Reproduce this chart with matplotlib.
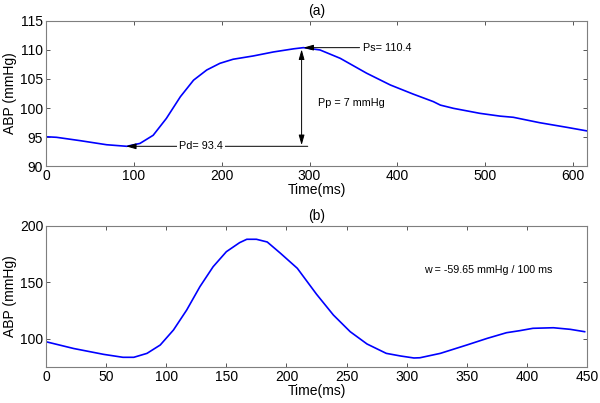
import matplotlib
matplotlib.use("Agg")
import matplotlib.pyplot as plt

plt.rcParams["font.family"] = ["Liberation Sans", "DejaVu Sans"]

# ── (a) ABP single beat ──────────────────────────────────────────────────────
t_a = [0, 12, 39, 69, 92, 107, 122, 137, 153, 168, 183, 198, 213, 236, 259,
       282, 293, 312, 335, 365, 392, 418, 441, 449, 464, 494, 517, 532, 562,
       593, 616]
abp_a = [95.05, 94.95, 94.37, 93.67, 93.4, 93.9, 95.3, 98.2, 101.95, 104.8,
         106.55, 107.7, 108.4, 108.97, 109.66, 110.2, 110.4, 110.0, 108.56,
         106.0, 103.97, 102.4, 101.1, 100.5, 99.94, 99.08, 98.6, 98.4, 97.47,
         96.67, 96.05]

# ── (b) ABP wave ─────────────────────────────────────────────────────────────
t_b = [0, 23, 48, 64, 73, 84, 95, 106, 117, 128, 139, 150, 161, 167, 175,
       184, 195, 209, 225, 239, 253, 267, 283, 295, 306, 311, 328, 350, 367,
       383, 394, 405, 422, 436, 448]
abp_b = [97.4, 91.4, 86.2, 83.6, 83.6, 87.1, 94.5, 107.8, 125.5, 146.2, 163.9,
         177.2, 185.2, 188.2, 188.2, 185.8, 175.8, 162.5, 139.5, 121.1, 106.3,
         95.4, 87.1, 84.75, 83.0, 83.2, 87.1, 94.5, 100.4, 105.4, 107.2, 109.3,
         109.8, 108.4, 106.3]

SPINE = "#7f7f7f"


def style_axes(ax):
    for s in ax.spines.values():
        s.set_color(SPINE)
        s.set_linewidth(0.8)
    ax.tick_params(direction="in", length=3, width=0.7, color="#555555",
                   top=True, right=True, labelsize=10, pad=2)
    ax.set_xlabel("Time(ms)", fontsize=10, labelpad=0)
    ax.set_ylabel("ABP (mmHg)", fontsize=10, labelpad=2)


fig = plt.figure(figsize=(6.0, 4.03), dpi=100)
ax1 = fig.add_axes([0.0767, 0.588, 0.9017, 0.360])
ax2 = fig.add_axes([0.0767, 0.0893, 0.9017, 0.350])

# (a)
ax1.plot(t_a, abp_a, color="#0000ff", linewidth=1.2)
ax1.set_xlim(0, 616)
ax1.set_ylim(90, 115)
ax1.set_xticks(range(0, 601, 100))
ax1.set_yticks(range(90, 116, 5))
ax1.set_title("(a)", fontsize=10, pad=4)
style_axes(ax1)

arr = dict(arrowstyle="-|>,head_length=0.6,head_width=0.17", color="black",
           linewidth=0.7, shrinkA=0, shrinkB=0)
ax1.annotate("", xy=(91, 93.4), xytext=(298, 93.4), arrowprops=arr)
ax1.text(176, 93.4, "Pd= 93.4", fontsize=7.8, ha="center", va="center",
         bbox=dict(facecolor="white", edgecolor="none", pad=1.5))
ax1.annotate("", xy=(293, 110.4), xytext=(357, 110.4), arrowprops=arr)
ax1.text(361, 110.4, "Ps= 110.4", fontsize=7.8, ha="left", va="center")
ax1.annotate("", xy=(291, 110.1), xytext=(291, 93.6),
             arrowprops=dict(arrowstyle="<|-|>,head_length=0.6,head_width=0.17",
                             color="black", linewidth=0.7, shrinkA=0, shrinkB=0))
ax1.text(310, 100.8, "Pp = 7 mmHg", fontsize=7.8, ha="left", va="center")

# (b)
ax2.plot(t_b, abp_b, color="#0000ff", linewidth=1.2)
ax2.set_xlim(0, 450)
ax2.set_ylim(75, 200)
ax2.set_xticks(range(0, 451, 50))
ax2.set_yticks([100, 150, 200])
ax2.set_title("(b)", fontsize=10, pad=4)
style_axes(ax2)
ax2.text(314, 161, "w = -59.65 mmHg / 100 ms", fontsize=7.7, ha="left",
         va="center")

fig.savefig("out.png", dpi=100)
